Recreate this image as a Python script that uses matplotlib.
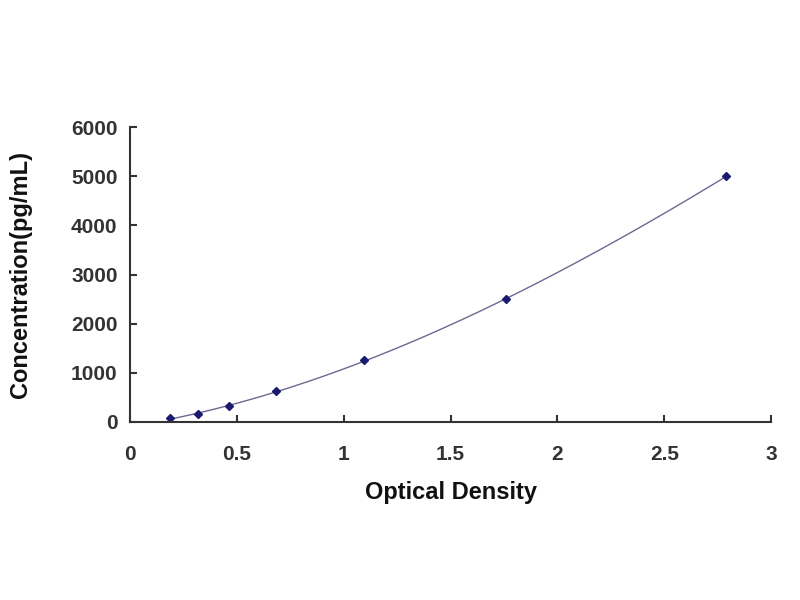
import numpy as np
import matplotlib
matplotlib.use("Agg")
import matplotlib.pyplot as plt

od = [0.185, 0.32, 0.465, 0.685, 1.095, 1.76, 2.79]
conc = [78, 156, 312, 625, 1250, 2500, 5000]
xticks = [0, 0.5, 1, 1.5, 2, 2.5, 3]
xtick_labels = ["0", "0.5", "1", "1.5", "2", "2.5", "3"]
yticks = [0, 1000, 2000, 3000, 4000, 5000, 6000]

plt.rcParams['font.family'] = ['Liberation Sans', 'DejaVu Sans']
fig = plt.figure(figsize=(8, 6), dpi=100)
ax = fig.add_axes([0.1625, 0.297, 0.8015, 0.491])

coef = np.polyfit(od, conc, 3)
xs = np.linspace(min(od), max(od), 200)
ax.plot(xs, np.polyval(coef, xs), color='#6a6a90', lw=1.0)
ax.plot(od, conc, linestyle='none', marker='D', ms=4, color='#1a1a6e')

ax.set_xlim(0, 3)
ax.set_ylim(0, 6000)
ax.set_xticks(xticks)
ax.set_xticklabels(xtick_labels)
ax.set_yticks(yticks)
for s in ['top', 'right']:
    ax.spines[s].set_visible(False)
for s in ['left', 'bottom']:
    ax.spines[s].set_linewidth(1.5)
    ax.spines[s].set_color('#333333')
ax.tick_params(direction='in', length=5, width=1.5, labelsize=15, colors='#333333')
ax.tick_params(axis='x', pad=17)
ax.tick_params(axis='y', pad=9)
for lab in ax.get_xticklabels() + ax.get_yticklabels():
    lab.set_fontweight('bold')
    lab.set_color('#333333')
ax.set_xlabel('Optical Density', fontsize=17, fontweight='bold', color='#111111', labelpad=12)
ax.set_ylabel('Concentration(pg/mL)', fontsize=17, fontweight='bold', color='#111111', labelpad=28)

fig.savefig('out.png', dpi=100, facecolor='white')
